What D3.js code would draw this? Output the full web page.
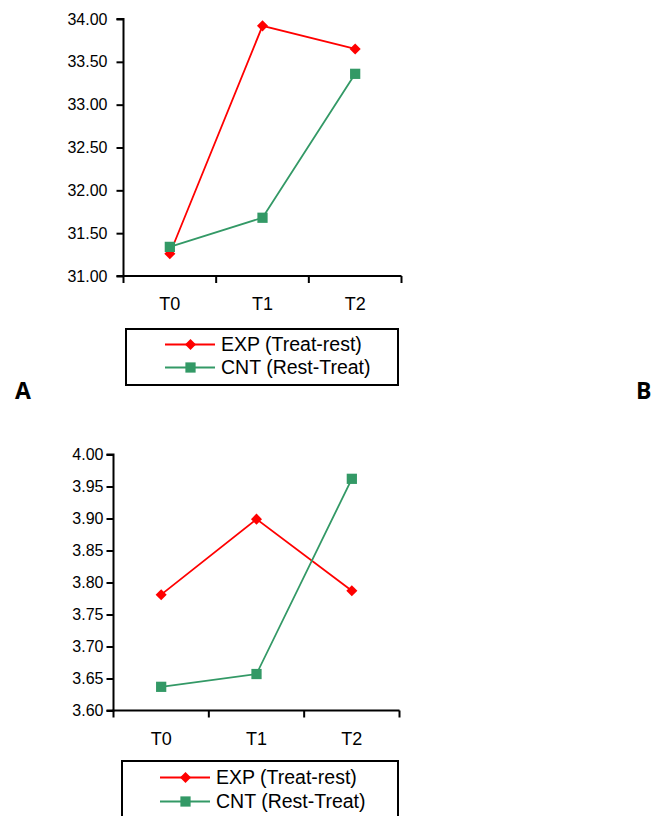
<!DOCTYPE html>
<html>
<head>
<meta charset="utf-8">
<script src="https://cdn.jsdelivr.net/npm/d3@7"></script>
<style>
  html, body { margin: 0; padding: 0; background: #fff; }
  svg { display: block; }
  text { font-family: "Liberation Sans", Arial, sans-serif; fill: #000; }
</style>
</head>
<body>
<svg id="fig" width="654" height="816"></svg>
<script>
// Time points
const categories = ["T0", "T1", "T2"];

// Panel A values
const expA = [31.26, 33.92, 33.65];
const cntA = [31.34, 31.68, 33.36];
const ticksA = [31.0, 31.5, 32.0, 32.5, 33.0, 33.5, 34.0];

// Panel B values
const expB = [3.781, 3.899, 3.787];
const cntB = [3.637, 3.657, 3.962];
const ticksB = [3.60, 3.65, 3.70, 3.75, 3.80, 3.85, 3.90, 3.95, 4.00];

// Series labels
const seriesNames = ["EXP (Treat-rest)", "CNT (Rest-Treat)"];

const RED = "#ff0000";
const GREEN = "#339966";
const FONT = "'Liberation Sans', Arial, sans-serif";

const svg = d3.select("#fig");

function panel(opts) {
  const g = svg.append("g");
  const x = d3.scaleBand().domain(categories).range([opts.x0, opts.x1]).padding(0);
  const y = d3.scaleLinear().domain([opts.ticks[0], opts.ticks[opts.ticks.length - 1]]).range([opts.y0, opts.y1]);

  // y axis
  const ya = g.append("g")
    .attr("transform", `translate(${opts.x0},0)`)
    .call(d3.axisLeft(y).tickValues(opts.ticks).tickSize(7).tickPadding(opts.yPad).tickFormat(d3.format(".2f")));
  ya.selectAll("path, line").attr("stroke", "#000").attr("stroke-width", 2);
  ya.select(".domain").attr("d", `M-7,${opts.y1}H0V${opts.y0}H-7`);
  ya.selectAll("text").style("font-size", "16px").style("font-family", FONT);

  // x axis, ticks on category boundaries
  const xa = g.append("g")
    .attr("transform", `translate(0,${opts.y0})`)
    .call(d3.axisBottom(x).tickSize(0));
  xa.select(".domain").attr("d", `M${opts.x0 - 1},0H${opts.x1}`).attr("stroke", "#000").attr("stroke-width", 2);
  xa.selectAll("text")
    .attr("y", 34).attr("dy", 0)
    .style("font-size", "18px").style("font-family", FONT);
  const bounds = categories.map(c => x(c)).concat([x.range()[1]]);
  xa.selectAll(".bound").data(bounds).join("line")
    .attr("x1", d => d).attr("x2", d => d)
    .attr("y1", 0).attr("y2", 7)
    .attr("stroke", "#000").attr("stroke-width", 2);

  const cx = c => x(c) + x.bandwidth() / 2;
  const line = d3.line().x((d, i) => cx(categories[i])).y(d => y(d));

  const series = [
    { vals: opts.exp, color: RED, shape: d3.symbolDiamond2, size: 78 },
    { vals: opts.cnt, color: GREEN, shape: d3.symbolSquare, size: 105 }
  ];

  series.forEach(s => {
    g.append("path").datum(s.vals)
      .attr("d", line).attr("fill", "none")
      .attr("stroke", s.color).attr("stroke-width", 1.8);
  });
  series.forEach(s => {
    g.selectAll(null).data(s.vals).join("path")
      .attr("transform", (d, i) => `translate(${cx(categories[i])},${y(d)})`)
      .attr("d", d3.symbol().type(s.shape).size(s.size))
      .attr("fill", s.color);
  });

  // legend
  const lg = g.append("g");
  lg.append("rect")
    .attr("x", opts.lx).attr("y", opts.ly)
    .attr("width", opts.lw).attr("height", opts.lh)
    .attr("fill", "none").attr("stroke", "#000").attr("stroke-width", 2);
  series.forEach((s, i) => {
    const yy = opts.rowY[i];
    lg.append("line")
      .attr("x1", opts.lineX0).attr("x2", opts.lineX0 + 50)
      .attr("y1", yy).attr("y2", yy)
      .attr("stroke", s.color).attr("stroke-width", 1.8);
    lg.append("path")
      .attr("transform", `translate(${opts.lineX0 + 25.5},${yy})`)
      .attr("d", d3.symbol().type(s.shape).size(s.size))
      .attr("fill", s.color);
    lg.append("text")
      .attr("x", opts.lineX0 + 56).attr("y", yy)
      .attr("dy", "0.35em")
      .style("font-size", "19.5px")
      .text(seriesNames[i]);
  });
}

panel({
  x0: 123.5, x1: 401.5, y0: 276, y1: 19,
  ticks: ticksA, exp: expA, cnt: cntA, yPad: 9,
  lx: 126, ly: 329, lw: 272, lh: 56,
  lineX0: 165, rowY: [344.5, 367.5]
});

panel({
  x0: 113.5, x1: 399.5, y0: 710.5, y1: 454.5,
  ticks: ticksB, exp: expB, cnt: cntB, yPad: 3,
  lx: 122, ly: 761, lw: 276, lh: 70,
  lineX0: 160, rowY: [777.5, 801.5]
});

// panel letters
svg.append("text").attr("x", 15).attr("y", 399)
  .style("font-family", "'Open Sans', sans-serif").style("font-weight", 700).style("font-size", "23px")
  .text("A");
svg.append("text").attr("x", 636).attr("y", 399)
  .style("font-family", "'Open Sans', sans-serif").style("font-weight", 700).style("font-size", "23px")
  .text("B");
</script>
</body>
</html>
